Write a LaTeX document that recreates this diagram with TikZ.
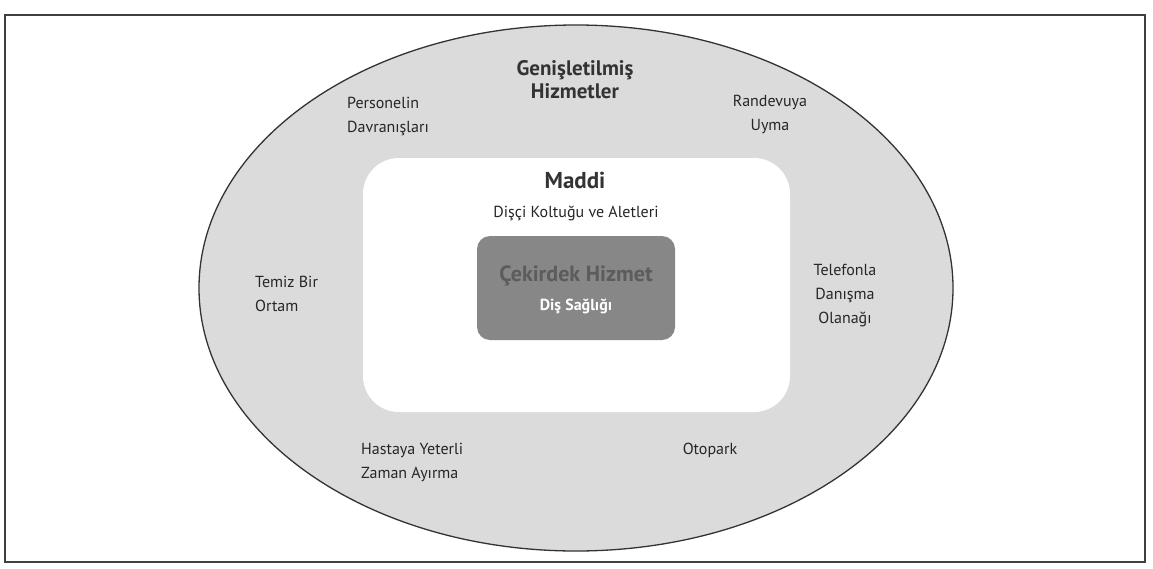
\documentclass[tikz,border=0pt]{standalone}
\usepackage{fontspec}
\setmainfont{PT Sans}
\usetikzlibrary{shapes.geometric}
\begin{document}
\begin{tikzpicture}[x=1pt,y=-1pt,
  label/.style={font=\fontsize{16}{24}\selectfont, text=black!85, inner sep=0pt},
  heading/.style={font=\fontsize{21}{23}\selectfont\bfseries, text=black!80, inner sep=0pt},
  layer/.style={draw=none, rounded corners=#1, inner sep=0pt}]
  \useasboundingbox (0,0) rectangle (1153,568);
  \fill[white] (0,0) rectangle (1153,568);
  % outer frame
  \draw[line width=1.4pt, draw=black!75] (5,15) rectangle (1145,562);
  % extended services ring
  \node (ring) [ellipse, draw=black!80, line width=1.3pt, fill=black!14,
        minimum width=754pt, minimum height=526pt, inner sep=0pt] at (576,288) {};
  % tangible layer
  \node (tangible) [layer=36pt, fill=white, minimum width=427pt, minimum height=254pt] at (576.5,285) {};
  % core service
  \node (core) [layer=13pt, fill=black!47, minimum width=198pt, minimum height=104pt] at (576,288) {};

  \node (genis) [heading, align=center] at (575,80) {Genişletilmiş\\Hizmetler};
  \node (pers) [label, align=left, anchor=west] at (347,116) {Personelin\\Davranışları};
  \node (rand) [label, align=center] at (770,114) {Randevuya\\Uyma};
  \node (maddi) [heading, font=\fontsize{23}{26}\selectfont\bfseries] at (575,180) {Maddi};
  \node (koltuk) [label] at (576,213) {Dişçi Koltuğu ve Aletleri};
  \node (temiz) [label, align=left, anchor=west] at (255,294) {Temiz Bir\\Ortam};
  \node (tel) [label, align=center] at (845,296) {Telefonla\\Danışma\\Olanağı};
  \node (cekirdek) [label, font=\fontsize{22}{24}\selectfont\bfseries, text=black!64] at (576,276) {Çekirdek Hizmet};
  \node (dis) [label, font=\fontsize{16}{18}\selectfont\bfseries, text=white] at (576,306) {Diş Sağlığı};
  \node (hasta) [label, align=left, anchor=west] at (361,462) {Hastaya Yeterli\\Zaman Ayırma};
  \node (oto) [label] at (710,450) {Otopark};
\end{tikzpicture}
\end{document}
